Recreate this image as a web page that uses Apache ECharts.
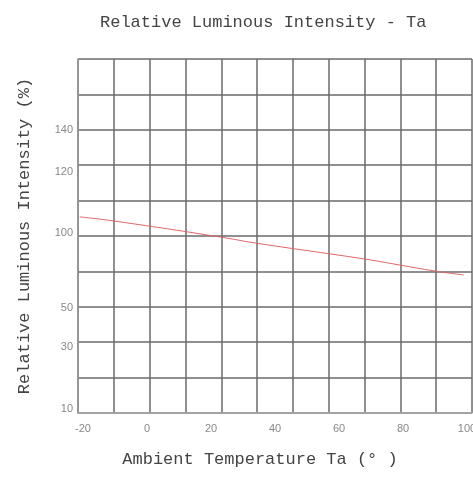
<!DOCTYPE html>
<html>
<head>
<meta charset="utf-8">
<script src="https://cdn.jsdelivr.net/npm/echarts@6/dist/echarts.min.js"></script>
<style>
  html, body { margin: 0; padding: 0; background: #fff; }
  #chart { width: 473px; height: 478px; }
</style>
</head>
<body>
<div id="chart"></div>
<script>
// 横轴刻度（温度）
const tempTicks = [-20, 0, 20, 40, 60, 80, 100];
// 纵轴刻度文字和它们在网格中的位置（网格单位，底部为0，顶部为10）
const yTickLabels = ['10', '30', '50', '100', '120', '140'];
const yTickPos = [0.1, 1.86, 2.97, 5.08, 6.81, 8.0];
// 曲线数据：温度，网格单位
const curveTemp = [-21, -10, 23, 34, 68, 79, 90, 99];
const curveVal = [5.54, 5.42, 4.97, 4.80, 4.35, 4.18, 4.01, 3.90];

const monoFont = '"Liberation Mono", "DejaVu Sans Mono", monospace';
const gridColor = '#6a6a6a';

let chart = echarts.init(document.getElementById('chart'));

let option = {
    backgroundColor: '#fff',
    animation: false,
    title: {
        text: 'Relative Luminous Intensity - Ta',
        left: 95,
        top: 9,
        textStyle: {
            fontFamily: monoFont,
            fontWeight: 'normal',
            fontSize: 17,
            color: '#444'
        }
    },
    grid: { left: 78, right: 1, top: 59, bottom: 65, outerBoundsMode: 'none' },
    xAxis: [{
        // 温度轴，只显示文字
        type: 'value',
        min: -21.56,
        max: 101.56,
        name: 'Ambient Temperature Ta (° )',
        nameLocation: 'middle',
        nameGap: 38,
        nameTextStyle: { fontFamily: monoFont, fontSize: 17, color: '#444', padding: [0, 30, 0, 0] },
        axisLine: { show: true, onZero: false, lineStyle: { color: '#aaa', width: 1.5 } },
        axisTick: { show: false },
        splitLine: { show: false },
        axisLabel: {
            customValues: tempTicks,
            color: '#888',
            fontFamily: 'Liberation Sans',
            fontSize: 11,
            margin: 10
        }
    }, {
        // 网格竖线
        type: 'value',
        position: 'bottom',
        min: 0,
        max: 11,
        interval: 1,
        axisLine: { show: false },
        axisTick: { show: false },
        axisLabel: { show: false },
        splitLine: { show: true, lineStyle: { color: gridColor, width: 1.5 } }
    }],
    yAxis: [{
        type: 'value',
        min: 0,
        max: 10,
        name: 'Relative Luminous Intensity (%)',
        nameLocation: 'middle',
        nameGap: 45,
        nameRotate: 90,
        nameTextStyle: { fontFamily: monoFont, fontSize: 17, color: '#444' },
        axisLine: { show: true, onZero: false, lineStyle: { color: '#999', width: 1.5 } },
        axisTick: { show: false },
        splitLine: { show: false },
        axisLabel: {
            customValues: yTickPos,
            formatter: v => yTickLabels[yTickPos.indexOf(v)],
            color: '#888',
            fontFamily: 'Liberation Sans',
            fontSize: 11,
            margin: 5
        }
    }, {
        // 网格横线
        type: 'value',
        position: 'left',
        min: 0,
        max: 10,
        interval: 1,
        axisLine: { show: false },
        axisTick: { show: false },
        axisLabel: { show: false },
        splitLine: { show: true, lineStyle: { color: gridColor, width: 1.5 } }
    }],
    series: [{
        type: 'line',
        xAxisIndex: 0,
        yAxisIndex: 0,
        symbol: 'none',
        smooth: true,
        lineStyle: { color: '#e06666', width: 1 },
        data: curveTemp.map((t, i) => [t, curveVal[i]])
    }]
};

chart.setOption(option);
</script>
</body>
</html>
